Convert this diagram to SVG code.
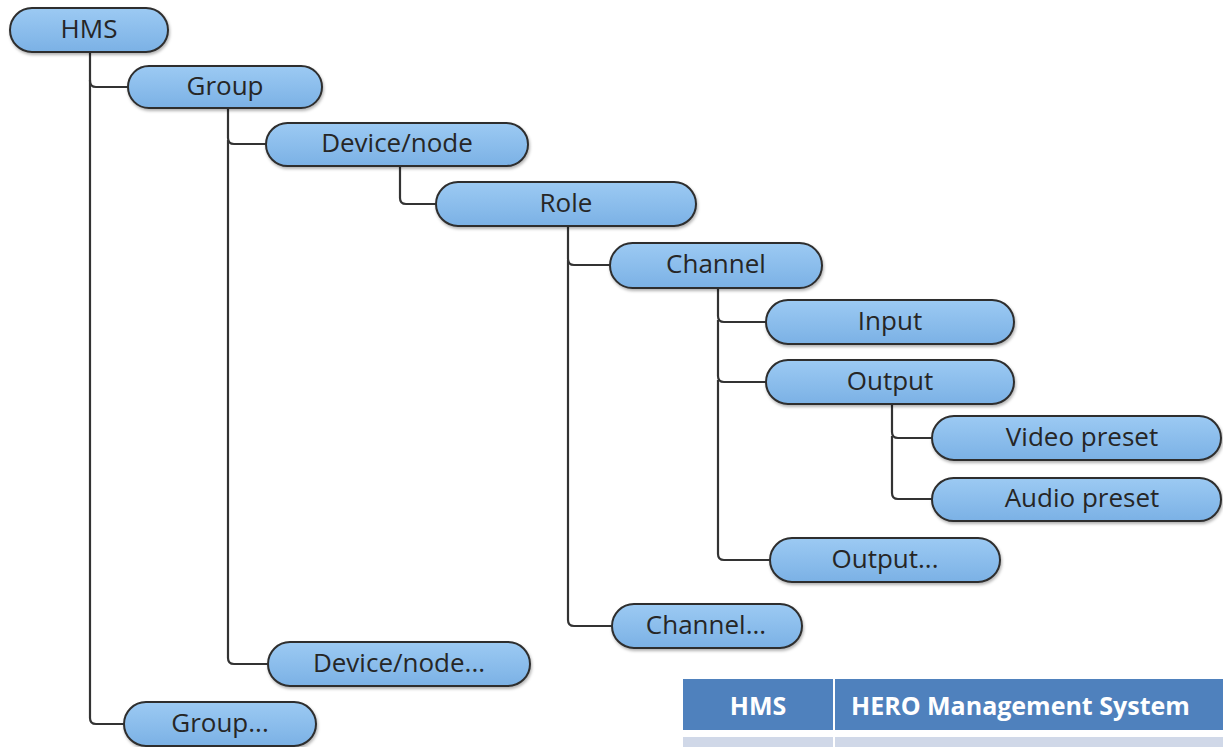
<svg xmlns="http://www.w3.org/2000/svg" width="1223" height="747" viewBox="0 0 1223 747">
<defs>
<linearGradient id="g" x1="0" y1="0" x2="0" y2="1">
<stop offset="0" stop-color="#9ccaf3"/>
<stop offset="1" stop-color="#7bb1e5"/>
</linearGradient>
<filter id="sh" x="-5%" y="-20%" width="110%" height="150%">
<feDropShadow dx="1" dy="2" stdDeviation="1.5" flood-color="#000" flood-opacity="0.3"/>
</filter>
</defs>
<style>
.n rect{fill:url(#g);stroke:#2e2e2e;stroke-width:2;filter:url(#sh)}
.n text{font-family:"Open Sans","DejaVu Sans",sans-serif;font-size:26px;fill:#262626;text-anchor:middle;dominant-baseline:central}
.c path{fill:none;stroke:#333;stroke-width:2.2}
.th{font-family:"Open Sans","DejaVu Sans",sans-serif;font-size:25px;font-weight:bold;fill:#fff;dominant-baseline:central}
</style>
<rect width="1223" height="747" fill="#fff"/>
<g id="connectors" class="c">
<path d="M90 52 V81 Q90 87 96 87 H128"/>
<path d="M90 80 V718 Q90 724 96 724 H124"/>
<path d="M228 108 V138 Q228 144 234 144 H266"/>
<path d="M228 140 V658 Q228 664 234 664 H268"/>
<path d="M400 166 V198 Q400 204 406 204 H436"/>
<path d="M568 226 V259 Q568 265 574 265 H610"/>
<path d="M568 260 V620 Q568 626 574 626 H612"/>
<path d="M718 288 V316 Q718 322 724 322 H766"/>
<path d="M718 320 V376 Q718 382 724 382 H766"/>
<path d="M718 380 V554 Q718 560 724 560 H770"/>
<path d="M892 404 V432 Q892 438 898 438 H932"/>
<path d="M892 436 V493 Q892 499 898 499 H932"/>
</g>
<g id="n-hms" class="n"><rect x="10" y="8" width="158" height="44" rx="22"/><text x="89" y="28">HMS</text></g>
<g id="n-group" class="n"><rect x="128" y="66" width="194" height="42" rx="21"/><text x="225" y="85">Group</text></g>
<g id="n-device" class="n"><rect x="266" y="123" width="262" height="43" rx="21.5"/><text x="397" y="142">Device/node</text></g>
<g id="n-role" class="n"><rect x="436" y="182" width="260" height="44" rx="22"/><text x="566" y="202">Role</text></g>
<g id="n-channel" class="n"><rect x="610" y="243" width="212" height="45" rx="22.5"/><text x="716" y="263">Channel</text></g>
<g id="n-input" class="n"><rect x="766" y="300" width="248" height="44" rx="22"/><text x="890" y="320">Input</text></g>
<g id="n-output" class="n"><rect x="766" y="360" width="248" height="44" rx="22"/><text x="890" y="380">Output</text></g>
<g id="n-video" class="n"><rect x="932" y="416" width="289" height="44" rx="22"/><text x="1082" y="436">Video preset</text></g>
<g id="n-audio" class="n"><rect x="932" y="478" width="289" height="43" rx="21.5"/><text x="1082" y="497">Audio preset</text></g>
<g id="n-output2" class="n"><rect x="770" y="538" width="230" height="44" rx="22"/><text x="885" y="558">Output...</text></g>
<g id="n-channel2" class="n"><rect x="612" y="604" width="190" height="44" rx="22"/><text x="706" y="624">Channel...</text></g>
<g id="n-device2" class="n"><rect x="268" y="642" width="262" height="44" rx="22"/><text x="399" y="662">Device/node...</text></g>
<g id="n-group2" class="n"><rect x="124" y="702" width="192" height="44" rx="22"/><text x="220" y="722">Group...</text></g>
<g id="legend">
<rect x="683" y="679" width="540" height="51" fill="#4f81bd"/>
<rect x="683" y="737" width="540" height="10" fill="#d0d8e8"/>
<rect x="833" y="679" width="2" height="68" fill="#fff"/>
<text class="th" x="758" y="705" text-anchor="middle">HMS</text>
<text class="th" x="851" y="705">HERO Management System</text>
</g>
</svg>
